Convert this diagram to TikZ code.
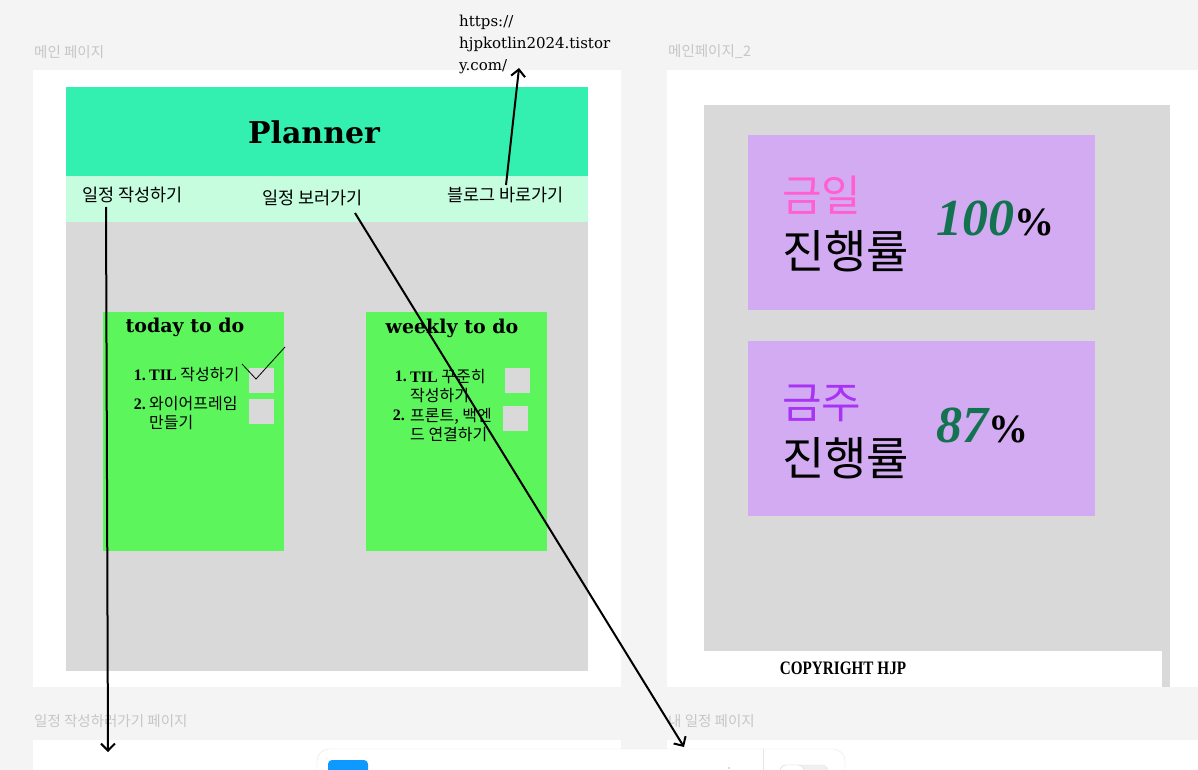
\documentclass[tikz,border=0pt]{standalone}
\usepackage{fontspec}
\setmainfont{Liberation Serif}
\newfontfamily\kr{Noto Sans CJK KR}
\newfontfamily\deco{DejaVu Serif}
\usetikzlibrary{arrows.meta}
\definecolor{bgc}{HTML}{F4F4F4}
\definecolor{hdr}{HTML}{33F0B0}
\definecolor{navc}{HTML}{C6FDDE}
\definecolor{grc}{HTML}{D9D9D9}
\definecolor{todo}{HTML}{5CF55C}
\definecolor{purp}{HTML}{D3ABF3}
\definecolor{pinkc}{HTML}{FF5FD3}
\definecolor{violc}{HTML}{A833F5}
\definecolor{dgreen}{HTML}{137350}
\definecolor{lblc}{HTML}{C6C6C6}
\definecolor{blueb}{HTML}{0D99FF}
\tikzset{
  lbl/.style={anchor=west,inner sep=0,text=lblc,font=\kr\fontsize{14.5}{17}\selectfont},
  navtxt/.style={anchor=west,inner sep=0,font=\kr\fontsize{17.5}{20}\selectfont},
  item/.style={anchor=west,inner sep=0,font=\kr\fontsize{16}{19}\selectfont},
  num/.style={anchor=east,inner sep=0,font=\bfseries\fontsize{16}{19}\selectfont},
  boxtitle/.style={inner sep=0,font=\deco\bfseries\fontsize{19}{22}\selectfont},
  chk/.style={fill=grc},
  big/.style={anchor=west,inner sep=0,font=\kr\fontsize{43}{48}\selectfont},
  bigger/.style={anchor=west,inner sep=0,font=\kr\fontsize{46}{50}\selectfont},
  pct/.style={anchor=west,inner sep=0,text=dgreen,font=\bfseries\itshape\fontsize{52}{56}\selectfont},
  arr/.style={draw=black,line width=2pt,-{Straight Barb[length=7pt,width=14pt,line width=2pt]}},
}
\begin{document}
\begin{tikzpicture}[x=1pt,y=-1pt]
\useasboundingbox (0,0) rectangle (1198,770);
\fill[bgc] (0,0) rectangle (1198,770);
% labels
\node[lbl] (l1) at (34,52) {메인 페이지};
\node[lbl] (l2) at (668,52) {메인페이지\_2};
\node[lbl] (l3) at (34,721) {일정 작성하러가기 페이지};
\node[lbl] (l4) at (668,721) {내 일정 페이지};
% frame 1
\fill[white] (33,70) rectangle (621,687);
\fill[hdr] (66,87) rectangle (588,176);
\node[inner sep=0,font=\deco\bfseries\fontsize{30}{34}\selectfont] (title) at (314,132) {Planner};
\fill[navc] (66,176) rectangle (588,222);
\fill[grc] (66,222) rectangle (588,671);
\node[navtxt] (nav1) at (82,195) {일정 작성하기};
\node[navtxt] (nav2) at (262,198) {일정 보러가기};
\node[navtxt] (nav3) at (447,195) {블로그 바로가기};
% today box
\fill[todo] (103,312) rectangle (284,551);
\node[boxtitle] (t1) at (185,327) {today to do};
\node[num] (n11) at (146,375) {1.};
\node[item] (i11) at (149,375) {{\rmfamily\bfseries TIL} 작성하기};
\node[num] (n12) at (146,404) {2.};
\node[item,align=left] (i12) at (149,413) {와이어프레임\\만들기};
\fill[chk] (249,368) rectangle (274,393);
\fill[chk] (249,399) rectangle (274,424);
\draw[line width=0.8pt] (242,364) -- (256,379) -- (285,347);
% weekly box
\fill[todo] (366,312) rectangle (547,551);
\node[boxtitle] (t2) at (452,328) {weekly to do};
\node[num] (n21) at (407,376) {1.};
\node[item,align=left] (i21) at (410,386) {{\rmfamily\bfseries TIL} 꾸준히\\작성하기};
\node[num] (n22) at (405,415) {2.};
\node[item,align=left] (i22) at (410,425) {프론트, 백엔\\드 연결하기};
\fill[chk] (505,368) rectangle (530,393);
\fill[chk] (503,406) rectangle (528,431);
% url
\node[anchor=north west,inner sep=0,align=left,font=\deco\fontsize{15}{22}\selectfont] (url) at (459,15) {https://\\hjpkotlin2024.tistor\\y.com/};
% frame 2
\fill[white] (667,70) rectangle (1198,687);
\fill[grc] (704,105) rectangle (1170,687);
\fill[white] (704,651) rectangle (1162,687);
\fill[purp] (748,135) rectangle (1095,310);
\fill[purp] (748,341) rectangle (1095,516);
\node[big,text=pinkc] (d1) at (782,195) {금일};
\node[bigger,text=black] (p1) at (782,251) {진행률};
\node[pct] (v1) at (936,218) {100\textcolor{black}{\upshape\fontsize{40}{44}\selectfont\%}};
\node[big,text=violc] (d2) at (782,403) {금주};
\node[bigger,text=black] (p2) at (782,458) {진행률};
\node[pct] (v2) at (936,425) {87\textcolor{black}{\upshape\fontsize{40}{44}\selectfont\%}};
\node[inner sep=0,xscale=0.8,font=\bfseries\fontsize{19}{22}\selectfont] (copy) at (843,668) {COPYRIGHT HJP};
% bottom frames
\fill[white] (33,740) rectangle (621,770);
\fill[white] (667,740) rectangle (1198,770);
% toolbar
\begin{scope}
\clip (0,0) rectangle (1198,770);
\draw[fill=white,draw=black!10,rounded corners=12pt] (317,749) rectangle (845,800);
\fill[blueb,rounded corners=4pt] (328,760) rectangle (368,795);
\draw[black!10] (763,749) -- (763,770);
\draw[fill=black!6,draw=black!10,rounded corners=6pt] (780,765) rectangle (828,790);
\draw[fill=white,draw=black!15,rounded corners=6pt] (780,765) rectangle (804,790);
\fill[black!60] (729,768) circle (0.7);
\end{scope}
% arrows
\coordinate (a1s) at (106,207);
\coordinate (a1e) at (108,752);
\coordinate (a2s) at (355,213);
\coordinate (a2e) at (684,747);
\coordinate (a3s) at (506,185);
\coordinate (a3e) at (519,68);
\draw[arr] (a1s) -- (a1e);
\draw[arr] (a2s) -- (a2e);
\draw[arr] (a3s) -- (a3e);
\end{tikzpicture}
\end{document}
